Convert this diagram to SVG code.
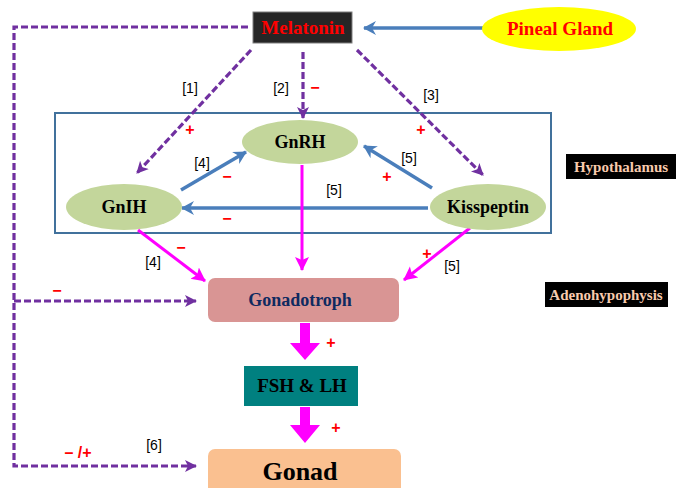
<svg xmlns="http://www.w3.org/2000/svg" width="680" height="488" viewBox="0 0 680 488">
<defs>
<style>
.ser{font-family:"Liberation Serif","Times New Roman",serif;font-weight:bold;text-anchor:middle}
.lab{font-family:"Liberation Sans",Arial,sans-serif;font-size:14px;fill:#000;text-anchor:middle}
.sgn{font-family:"Liberation Sans",Arial,sans-serif;font-size:16px;font-weight:bold;fill:#ff0000;text-anchor:middle}
.pd{fill:none;stroke:#7030a0;stroke-width:3.2;stroke-dasharray:7 3}
.bl{fill:none;stroke:#4a7ebb;stroke-width:3.5}
.mg{fill:none;stroke:#ff00ff;stroke-width:3}
.ell{fill:#c3d69b}
</style>
<marker id="ap" markerUnits="userSpaceOnUse" markerWidth="16" markerHeight="16" refX="11" refY="7" orient="auto">
<path d="M0,1 L12,7 L0,13 L3,7 Z" fill="#7030a0"/>
</marker>
<marker id="ab" markerUnits="userSpaceOnUse" markerWidth="18" markerHeight="18" refX="12" refY="8" orient="auto">
<path d="M0,1 L13,8 L0,15 L4,8 Z" fill="#4a7ebb"/>
</marker>
<marker id="am" markerUnits="userSpaceOnUse" markerWidth="18" markerHeight="18" refX="13" refY="7" orient="auto">
<path d="M0,0 L14,7 L0,14 L3,7 Z" fill="#ff00ff"/>
</marker>
</defs>
<rect width="680" height="488" fill="#fff"/>

<g id="hypothalamus-region">
<rect x="55" y="113" width="496" height="120" fill="none" stroke="#41719c" stroke-width="2"/>
</g>

<g id="connectors">
<path class="pd" d="M248,27 H14 V466 H196" marker-end="url(#ap)"/>
<path class="pd" d="M14,301 H196" marker-end="url(#ap)"/>
<path class="pd" d="M251,50 L137,173" marker-end="url(#ap)"/>
<path class="pd" d="M303,52 V118" marker-end="url(#ap)"/>
<path class="pd" d="M357,50 L483,175" marker-end="url(#ap)"/>
<path class="bl" d="M484,28 H364" marker-end="url(#ab)"/>
<path class="bl" d="M181,190 L246,152" marker-end="url(#ab)"/>
<path class="bl" d="M432,188 L364,146" marker-end="url(#ab)"/>
<path class="bl" d="M428,208 H182" marker-end="url(#ab)"/>
<path class="mg" d="M138,230 L205,281" marker-end="url(#am)"/>
<path class="mg" d="M302,165 V270" marker-end="url(#am)"/>
<path class="mg" d="M470,228 L404,280" marker-end="url(#am)"/>
<path d="M300,323 H310 V343 H320 L305,360 L290,343 H300 Z" fill="#ff00ff"/>
<path d="M300,407 H310 V425 H320 L305,443 L290,425 H300 Z" fill="#ff00ff"/>
</g>

<g id="melatonin">
<rect x="253" y="12" width="99" height="31" fill="#262626" stroke="#7f7f7f" stroke-width="1"/>
<text class="ser" x="303" y="34" font-size="19" fill="#ff0000">Melatonin</text>
</g>
<g id="pineal-gland">
<ellipse cx="559" cy="29" rx="77" ry="22" fill="#ffff00"/>
<text class="ser" x="560" y="35" font-size="19" fill="#ff0000">Pineal Gland</text>
</g>
<g id="gnrh">
<ellipse class="ell" cx="300" cy="142" rx="58" ry="22"/>
<text class="ser" x="300" y="148" font-size="18" fill="#000">GnRH</text>
</g>
<g id="gnih">
<ellipse class="ell" cx="124" cy="207" rx="58" ry="23"/>
<text class="ser" x="124" y="213" font-size="18" fill="#000">GnIH</text>
</g>
<g id="kisspeptin">
<ellipse class="ell" cx="488" cy="207" rx="58" ry="23"/>
<text class="ser" x="488" y="213" font-size="18" fill="#000">Kisspeptin</text>
</g>
<g id="hypothalamus-label">
<rect x="566" y="154" width="110" height="25" fill="#000"/>
<text class="ser" x="621" y="172" font-size="15" fill="#f8cbad">Hypothalamus</text>
</g>
<g id="gonadotroph">
<rect x="208" y="278" width="191" height="44" rx="7" fill="#d99594"/>
<text class="ser" x="300" y="306" font-size="18" fill="#0f2a60">Gonadotroph</text>
</g>
<g id="adenohypophysis-label">
<rect x="545" y="282" width="123" height="25" fill="#000"/>
<text class="ser" x="606" y="300" font-size="15" fill="#f8cbad">Adenohypophysis</text>
</g>
<g id="fsh-lh">
<rect x="244" y="366" width="114" height="40" fill="#008080"/>
<text class="ser" x="302" y="392" font-size="19" fill="#000">FSH &amp; LH</text>
</g>
<g id="gonad">
<rect x="208" y="449" width="193" height="50" rx="7" fill="#fac090"/>
<text class="ser" x="300" y="480" font-size="26" fill="#000">Gonad</text>
</g>

<g id="labels">
<text class="lab" x="190" y="93">[1]</text>
<text class="lab" x="281" y="93">[2]</text>
<text class="lab" x="431" y="100">[3]</text>
<text class="lab" x="202" y="168">[4]</text>
<text class="lab" x="409" y="163">[5]</text>
<text class="lab" x="334" y="195">[5]</text>
<text class="lab" x="153" y="267">[4]</text>
<text class="lab" x="452" y="271">[5]</text>
<text class="lab" x="154" y="450">[6]</text>
<text class="sgn" x="190" y="135">+</text>
<text class="sgn" x="315" y="93">−</text>
<text class="sgn" x="421" y="135">+</text>
<text class="sgn" x="227" y="182">−</text>
<text class="sgn" x="387" y="182">+</text>
<text class="sgn" x="227" y="224">−</text>
<text class="sgn" x="181" y="253">−</text>
<text class="sgn" x="427" y="259">+</text>
<text class="sgn" x="57" y="296">−</text>
<text class="sgn" x="331" y="348">+</text>
<text class="sgn" x="336" y="433">+</text>
<text class="sgn" x="78" y="458" font-weight="normal" font-size="18">– /+</text>
</g>
</svg>
